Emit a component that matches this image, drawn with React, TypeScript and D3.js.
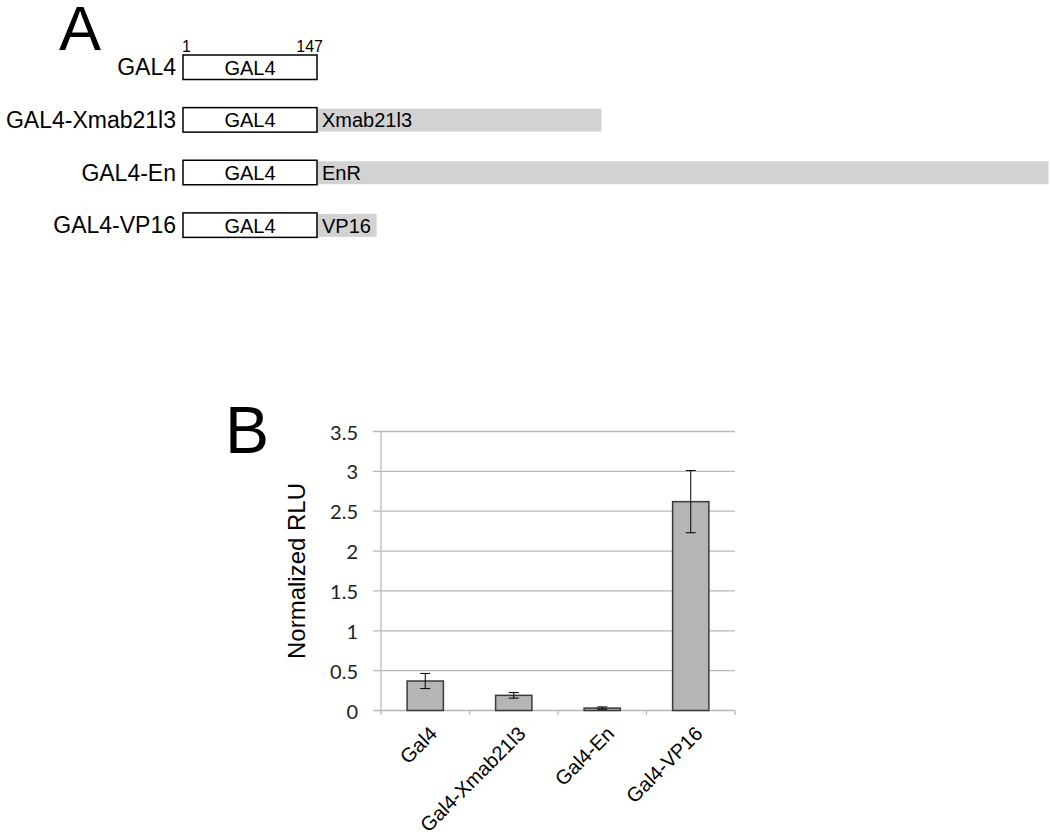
import React from 'react';
import * as d3 from 'd3';

// panel A: constructs (residue lengths)
const constructs = ['GAL4', 'GAL4-Xmab21l3', 'GAL4-En', 'GAL4-VP16'];
const fusionNames = ['', 'Xmab21l3', 'EnR', 'VP16'];
const fusionEnds = [147, 457, 944, 212];
const gal4Start = 1;
const gal4End = 147;

// panel B: luciferase assay
const categories = ['Gal4', 'Gal4-Xmab21l3', 'Gal4-En', 'Gal4-VP16'];
const rlu = [0.37, 0.19, 0.03, 2.62];
const rluErr = [0.095, 0.035, 0.015, 0.39];
const yTicks = [0, 0.5, 1, 1.5, 2, 2.5, 3, 3.5];

const W = 1050;
const H = 835;
const helv = '"Liberation Sans", Arial, sans-serif';
const calibri = 'Lato, "Open Sans", sans-serif';

const PanelA = () => {
  const x = d3.scaleLinear().domain([gal4Start, gal4End]).range([183, 317]);
  const row = d3.scaleBand().domain(constructs).range([55, 265.5]).paddingInner(0);
  const h = 24.5;
  return (
    <g>
      <text x={59} y={50} fontFamily={helv} fontSize={63}>A</text>
      <text x={x(gal4Start) - 1} y={52} fontFamily={helv} fontSize={16}>1</text>
      <text x={x(gal4End) + 6} y={52} fontFamily={helv} fontSize={16} textAnchor="end">147</text>
      {constructs.map((c, i) => {
        const y0 = row(c)!;
        return (
          <g key={c}>
            {fusionNames[i] && (
              <rect x={x(gal4End)} y={y0 + 1} width={x(fusionEnds[i]) - x(gal4End)} height={h - 1.5} fill="#d2d2d2" />
            )}
            <rect x={x(gal4Start)} y={y0} width={x(gal4End) - x(gal4Start)} height={h} fill="#fff" stroke="#000" strokeWidth={1.5} />
            <text x={(x(gal4Start) + x(gal4End)) / 2} y={y0 + h / 2 + 7.5} textAnchor="middle" fontFamily={helv} fontSize={20}>GAL4</text>
            <text x={176} y={y0 + h / 2 + 8} textAnchor="end" fontFamily={helv} fontSize={23}>{c}</text>
            {fusionNames[i] && (
              <text x={x(gal4End) + 5} y={y0 + h / 2 + 7.5} fontFamily={helv} fontSize={20}>{fusionNames[i]}</text>
            )}
          </g>
        );
      })}
    </g>
  );
};

const PanelB = () => {
  const x = d3.scaleBand().domain(categories).range([381, 735]).paddingInner(0.59).paddingOuter(0.295);
  const band = d3.scaleBand().domain(categories).range([381, 735]);
  const y = d3.scaleLinear().domain([0, 3.5]).range([710.5, 431.5]);
  const fmt = d3.format('');
  return (
    <g>
      <text x={225} y={453} fontFamily={helv} fontSize={66}>B</text>
      {yTicks.map((t) => (
        <g key={t}>
          {t > 0 && <line x1={373} x2={735} y1={y(t)} y2={y(t)} stroke="#b8b8b8" strokeWidth={1.3} />}
          <text x={358} y={y(t) + 8} textAnchor="end" fontFamily={calibri} fontSize={20} fill="#222">{fmt(t)}</text>
        </g>
      ))}
      <line x1={381} x2={381} y1={y(3.5)} y2={715} stroke="#b8b8b8" strokeWidth={1.3} />
      <line x1={373} x2={735} y1={y(0)} y2={y(0)} stroke="#b8b8b8" strokeWidth={1.3} />
      {categories.map((c) => (
        <line key={c} x1={band(c)! + band.bandwidth()} x2={band(c)! + band.bandwidth()} y1={y(0)} y2={715} stroke="#b8b8b8" strokeWidth={1.3} />
      ))}
      {categories.map((c, i) => {
        const cx = x(c)! + x.bandwidth() / 2;
        return (
          <g key={c}>
            <rect x={x(c)} y={y(rlu[i])} width={x.bandwidth()} height={y(0) - y(rlu[i])} fill="#b5b5b5" stroke="#3a3a3a" strokeWidth={1.5} />
            <line x1={cx} x2={cx} y1={y(rlu[i] + rluErr[i])} y2={y(rlu[i] - rluErr[i])} stroke="#000" strokeWidth={1} />
            <line x1={cx - 5} x2={cx + 5} y1={y(rlu[i] + rluErr[i])} y2={y(rlu[i] + rluErr[i])} stroke="#000" strokeWidth={1} />
            <line x1={cx - 5} x2={cx + 5} y1={y(rlu[i] - rluErr[i])} y2={y(rlu[i] - rluErr[i])} stroke="#000" strokeWidth={1} />
            <text transform={`translate(${cx + 13},${735}) rotate(-45)`} textAnchor="end" fontFamily={helv} fontSize={20}>{c}</text>
          </g>
        );
      })}
      <text transform={`translate(305,${(y(0) + y(3.5)) / 2}) rotate(-90)`} textAnchor="middle" fontFamily={helv} fontSize={24}>Normalized RLU</text>
    </g>
  );
};

export default function App() {
  return (
    <svg width={W} height={H} style={{ position: 'absolute', left: 0, top: 0, background: '#fff' }}>
      <PanelA />
      <PanelB />
    </svg>
  );
}
